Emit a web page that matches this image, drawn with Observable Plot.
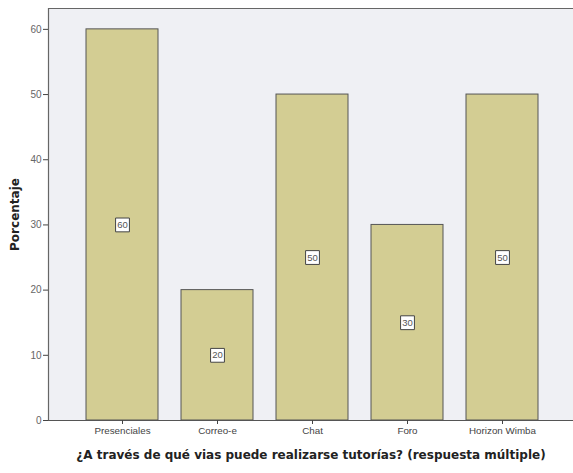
<!DOCTYPE html>
<html>
<head>
<meta charset="utf-8">
<script src="https://cdn.jsdelivr.net/npm/d3@7"></script>
<script src="https://cdn.jsdelivr.net/npm/@observablehq/plot@0.6"></script>
<style>
  html, body { margin: 0; padding: 0; background: white; }
</style>
</head>
<body>
<div id="chart"></div>
<script>
const categories = ["Presenciales", "Correo-e", "Chat", "Foro", "Horizon Wimba"];
const values = [60, 20, 50, 30, 50];
const yTicks = [0, 10, 20, 30, 40, 50, 60];
const yTitle = "Porcentaje";
const xTitle = "¿A través de qué vias puede realizarse tutorías? (respuesta múltiple)";

const data = categories.map((c, i) => ({category: c, value: values[i]}));

const chart = Plot.plot({
  width: 573,
  height: 473,
  marginLeft: 48,
  marginRight: 0,
  marginTop: 8,
  marginBottom: 53,
  style: {background: "white", fontFamily: "'Liberation Sans', Arial, sans-serif"},
  x: {domain: categories, paddingInner: 0.237, paddingOuter: 0.38, align: 0.52, label: null},
  y: {domain: [0, 63.2], label: null},
  marks: [
    Plot.frame({fill: "#eff0f4", stroke: null}),
    Plot.ruleY([63.2], {stroke: "#666", strokeWidth: 1.2}),
    Plot.frame({anchor: "left", stroke: "#666", strokeWidth: 1.2}),
    Plot.barY(data, {x: "category", y: "value", fill: "#d3cd93", stroke: "#555", strokeWidth: 1}),
    Plot.ruleY([0], {stroke: "#555", strokeWidth: 1.2}),
    Plot.axisY({ticks: yTicks, tickSize: 5, tickPadding: 2, fontSize: 10, color: "#666", stroke: "#444", label: null}),
    Plot.axisX({tickSize: 4, tickPadding: 3, fontSize: 9.8, color: "#444", stroke: "#444", label: null}),
    Plot.dot(data, {x: "category", y: d => d.value / 2, symbol: "square", r: 7.8, fill: "white", stroke: "#444", strokeWidth: 1}),
    Plot.text(data, {x: "category", y: d => d.value / 2, text: d => String(d.value), fontSize: 9.5, fill: "#555"}),
    Plot.text([yTitle], {frameAnchor: "left", textAnchor: "middle", dx: -33, rotate: -90, fontSize: 12, fontWeight: "bold", fill: "#222", fontFamily: "'DejaVu Sans', sans-serif"}),
    Plot.text([xTitle], {frameAnchor: "bottom", lineAnchor: "middle", dy: 35, fontSize: 12, fontWeight: "bold", fill: "#222", fontFamily: "'DejaVu Sans', sans-serif"})
  ]
});
document.getElementById("chart").appendChild(chart);
</script>
</body>
</html>
